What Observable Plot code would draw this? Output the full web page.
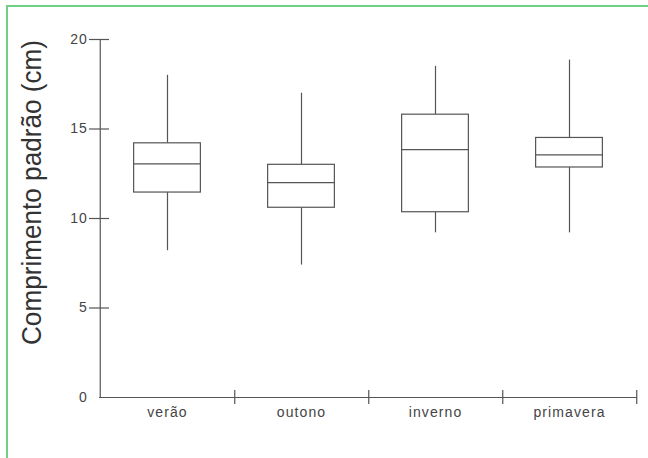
<!DOCTYPE html>
<html>
<head>
<meta charset="utf-8">
<script src="https://cdn.jsdelivr.net/npm/d3@7"></script>
<script src="https://cdn.jsdelivr.net/npm/@observablehq/plot@0.6"></script>
<style>
  html, body { margin: 0; padding: 0; background: #fff; }
  #wrap { position: relative; width: 648px; height: 458px; overflow: hidden; }
  #wrap .bt { position: absolute; left: 6px; top: 5px; width: 642px; height: 2px; background: #6fcf86; }
  #wrap .bl { position: absolute; left: 6px; top: 5px; width: 1.5px; height: 453px; background: #6fcf86; }
  #chart svg { display: block; }
  #chart svg .xlab text { letter-spacing: 1.1px; }
  #chart svg .ylab text { letter-spacing: 0.8px; }
</style>
</head>
<body>
<div id="wrap"><div id="chart"></div><div class="bt"></div><div class="bl"></div></div>
<script>
const seasons = ["verão", "outono", "inverno", "primavera"];
const whiskerLow  = [8.2, 7.4, 9.2, 9.2];
const q1          = [11.45, 10.6, 10.35, 12.85];
const median      = [13.05, 12.0, 13.85, 13.55];
const q3          = [14.2, 13.0, 15.8, 14.5];
const whiskerHigh = [18.0, 17.0, 18.5, 18.85];
const yTicks = [0, 5, 10, 15, 20];
const yLabel = "Comprimento padrão (cm)";

const data = seasons.map((s, i) => ({
  season: s, lo: whiskerLow[i], q1: q1[i], med: median[i], q3: q3[i], hi: whiskerHigh[i]
}));

const W = 648, H = 458, mL = 99, mR = 11, mT = 39, mB = 61;
const bw = (W - mL - mR) / seasons.length;
const inset = bw / 4;
const lineColor = "#555";
const textColor = "#444";

const chart = Plot.plot({
  width: W, height: H,
  marginLeft: mL, marginRight: mR, marginTop: mT, marginBottom: mB,
  style: { fontFamily: "Liberation Sans, Arial, sans-serif", fontSize: "14px", color: textColor, background: "transparent" },
  x: { domain: seasons, padding: 0, axis: null },
  y: { domain: [0, 20], axis: null },
  marks: [
    Plot.ruleX(data, { x: "season", y1: "lo", y2: "q1", stroke: lineColor, strokeWidth: 1.2 }),
    Plot.ruleX(data, { x: "season", y1: "q3", y2: "hi", stroke: lineColor, strokeWidth: 1.2 }),
    Plot.barY(data, { x: "season", y1: "q1", y2: "q3", fill: "white", stroke: lineColor, strokeWidth: 1.2, insetLeft: inset, insetRight: inset }),
    Plot.tickY(data, { x: "season", y: "med", stroke: lineColor, strokeWidth: 1.2, insetLeft: inset, insetRight: inset }),
    Plot.ruleY([0], { stroke: lineColor, strokeWidth: 1.2 }),
    Plot.ruleX([seasons[0]], { x: d => d, y1: 0, y2: 20, dx: -bw / 2, stroke: lineColor, strokeWidth: 1.2 }),
    Plot.axisX({ anchor: "bottom", tickSize: 14, dy: -7, dx: bw / 2, tickFormat: () => "", label: null, stroke: lineColor, strokeWidth: 1.2 }),
    Plot.axisX({ anchor: "bottom", tickSize: 0, tickPadding: 10, label: null, fill: textColor, fontSize: 14, className: "xlab" }),
    Plot.axisY({ ticks: yTicks.filter(d => d > 0), tickSize: 20, dx: 10, tickFormat: () => "", label: null, stroke: lineColor, strokeWidth: 1.2 }),
    Plot.axisY({ ticks: yTicks, tickSize: 0, tickPadding: 12, label: null, fill: textColor, fontSize: 14, className: "ylab" }),
    Plot.text([yLabel], { frameAnchor: "left", textAnchor: "middle", rotate: -90, dx: -67, dy: -26, fill: "#333", fontSize: 27,
      fontFamily: "Liberation Sans Narrow, Arial Narrow, Liberation Sans, sans-serif", className: "ytitle" })
  ]
});
document.getElementById("chart").appendChild(chart);
d3.select(chart).selectAll(".ytitle text")
  .attr("textLength", 305)
  .attr("lengthAdjust", "spacingAndGlyphs");
</script>
</body>
</html>
